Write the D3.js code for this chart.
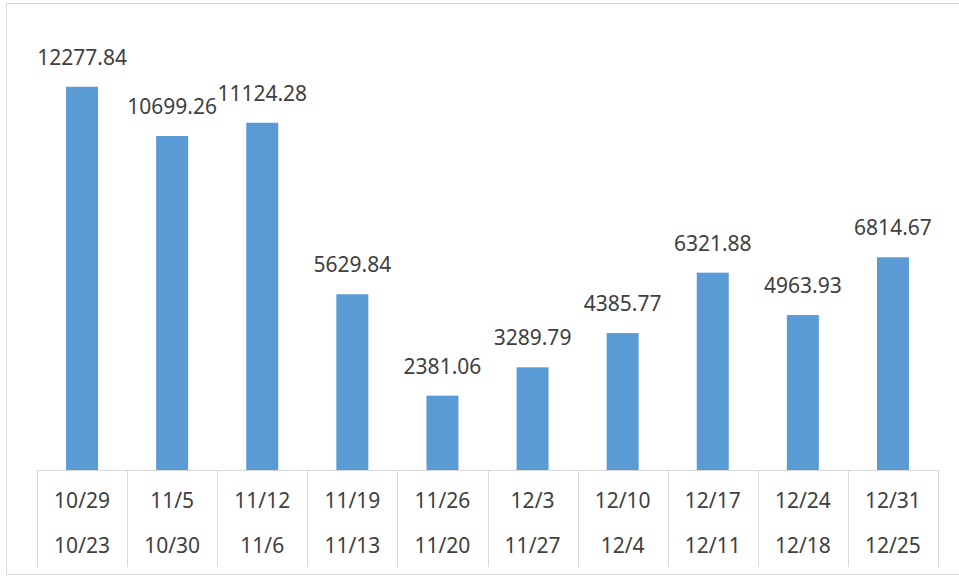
<!DOCTYPE html>
<html>
<head>
<meta charset="utf-8">
<script src="https://cdn.jsdelivr.net/npm/d3@7"></script>
<style>
  body { margin: 0; background: #fff; }
  svg text { font-family: "Noto Sans", sans-serif; fill: #404040; }
</style>
</head>
<body>
<div id="chart"></div>
<script>
/* DATA */
const weekEnd = ["10/29", "11/5", "11/12", "11/19", "11/26", "12/3", "12/10", "12/17", "12/24", "12/31"];
const weekStart = ["10/23", "10/30", "11/6", "11/13", "11/20", "11/27", "12/4", "12/11", "12/18", "12/25"];
const values = [12277.84, 10699.26, 11124.28, 5629.84, 2381.06, 3289.79, 4385.77, 6321.88, 4963.93, 6814.67];

const width = 959, height = 579;
const margin = {top: 33, left: 37, right: 21, bottom: 109};

const svg = d3.select("#chart")
  .append("svg")
  .attr("width", width)
  .attr("height", height);

// chart border (right edge runs off the page)
svg.append("rect")
  .attr("x", 6.5)
  .attr("y", 3.5)
  .attr("width", 960)
  .attr("height", 571)
  .attr("fill", "none")
  .attr("stroke", "#d9d9d9");

const idx = d3.range(values.length);

const xScale = d3.scaleBand()
  .domain(idx)
  .range([margin.left, width - margin.right])
  .paddingInner(0.645)
  .paddingOuter(0.3225);

const yScale = d3.scaleLinear()
  .domain([0, 14000])
  .range([height - margin.bottom, margin.top]);

const baseY = yScale(0);

// bars
svg.selectAll(".bar")
  .data(idx)
  .join("rect")
  .attr("class", "bar")
  .attr("x", i => xScale(i))
  .attr("y", i => yScale(values[i]))
  .attr("width", xScale.bandwidth())
  .attr("height", i => baseY - yScale(values[i]))
  .attr("fill", "#5b9bd5");

// value labels
svg.selectAll(".val")
  .data(idx)
  .join("text")
  .attr("class", "val")
  .attr("x", i => xScale(i) + xScale.bandwidth() / 2)
  .attr("y", i => yScale(values[i]) - 22)
  .attr("text-anchor", "middle")
  .style("font-size", "21px")
  .text(i => values[i].toFixed(2));

// category table (x axis)
const step = xScale.step();
const x0 = margin.left, x1 = width - margin.right;
const grid = svg.append("g")
  .attr("stroke", "#d9d9d9")
  .attr("stroke-width", 1);

grid.append("line")
  .attr("x1", x0).attr("x2", x1)
  .attr("y1", baseY + 0.5).attr("y2", baseY + 0.5);

grid.selectAll(".sep")
  .data(d3.range(values.length + 1))
  .join("line")
  .attr("class", "sep")
  .attr("x1", i => Math.round(x0 + i * step) + 0.5)
  .attr("x2", i => Math.round(x0 + i * step) + 0.5)
  .attr("y1", baseY)
  .attr("y2", baseY + 97);

svg.selectAll(".lab1")
  .data(idx)
  .join("text")
  .attr("class", "lab1")
  .attr("x", i => x0 + (i + 0.5) * step)
  .attr("y", baseY + 38)
  .attr("text-anchor", "middle")
  .style("font-size", "21px")
  .text(i => weekEnd[i]);

svg.selectAll(".lab2")
  .data(idx)
  .join("text")
  .attr("class", "lab2")
  .attr("x", i => x0 + (i + 0.5) * step)
  .attr("y", baseY + 83)
  .attr("text-anchor", "middle")
  .style("font-size", "21px")
  .text(i => weekStart[i]);
</script>
</body>
</html>
